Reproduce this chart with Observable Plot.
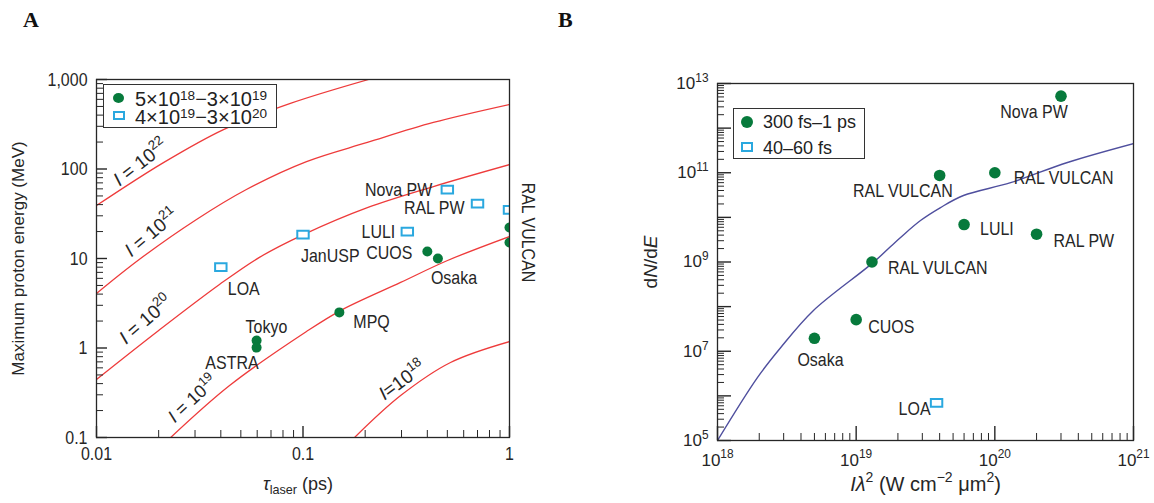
<!DOCTYPE html>
<html><head><meta charset="utf-8">
<script src="https://cdn.jsdelivr.net/npm/d3@7"></script>
<script src="https://cdn.jsdelivr.net/npm/@observablehq/plot@0.6"></script>
<style>
html,body{margin:0;padding:0;background:#fff;}
#wrap{position:relative;width:1154px;height:503px;overflow:hidden;background:#fff;}
.panel{position:absolute;top:0;}
.ptitle{position:absolute;top:7px;font:bold 22px "Liberation Serif","DejaVu Serif",serif;color:#111;}
.legend{position:absolute;background:#fff;border:1.3px solid #333;box-sizing:border-box;font-family:"Liberation Sans",Arial,sans-serif;color:#222;}
.legend .t{position:absolute;white-space:nowrap;line-height:16px;height:16px;}
.legend sup{font-size:0.68em;vertical-align:0.45em;line-height:0;}
.gdot{position:absolute;border-radius:50%;background:#077a3c;}
.bsq{position:absolute;box-sizing:border-box;border:2px solid #2aa8df;background:#fff;}
</style></head>
<body>
<div id="wrap">
  <div class="panel" id="pa" style="left:0;width:560px;"></div>
  <div class="panel" id="pb" style="left:577px;width:577px;"></div>
  <div class="ptitle" style="left:23px;">A</div>
  <div class="ptitle" style="left:558px;">B</div>
  <div class="legend" style="left:103px;top:84px;width:174px;height:44px;font-size:20px;">
    <span class="gdot" style="left:9px;top:8px;width:11px;height:10px;"></span>
    <span class="t" style="left:31px;top:6px;">5×10<sup>18</sup>−3×10<sup>19</sup></span>
    <span class="bsq" style="left:9px;top:26px;width:12px;height:9px;"></span>
    <span class="t" style="left:31px;top:24px;">4×10<sup>19</sup>−3×10<sup>20</sup></span>
  </div>
  <div class="legend" style="left:733px;top:108px;width:132px;height:51px;font-size:18px;">
    <span class="gdot" style="left:7px;top:7px;width:12px;height:12px;"></span>
    <span class="t" style="left:29px;top:5px;">300 fs–1 ps</span>
    <span class="bsq" style="left:7px;top:33px;width:12px;height:10px;"></span>
    <span class="t" style="left:29px;top:31px;">40–60 fs</span>
  </div>
</div>
<script>
// ---------- Panel A data ----------
const aGreenName = ["Tokyo","ASTRA","MPQ","CUOS","Osaka","RAL VULCAN","RAL VULCAN"];
const aGreenTau  = [0.0596,0.0596,0.15,0.40,0.45,1.0,1.0];
const aGreenE    = [1.21,1.01,2.5,12,10,22.2,15.1];
const aBlueName  = ["LOA","JanUSP","LULI","Nova PW","RAL PW","RAL VULCAN"];
const aBlueTau   = [0.04,0.10,0.32,0.50,0.70,1.0];
const aBlueE     = [8.0,18.5,20,59,41,35];

const aCurve18Tau = [0.1757,0.297,0.518,1.0];
const aCurve18E   = [0.0975,0.294,0.689,1.18];
const aCurve19Tau = [0.0226,0.0441,0.104,0.152,0.297,0.501,1.0];
const aCurve19E   = [0.0975,0.381,1.53,2.62,5.40,9.5,17.6];
const aCurve20Tau = [0.01,0.0200,0.0394,0.0615,0.1005,0.205,0.428,1.0];
const aCurve20E   = [0.445,1.57,5.12,10.3,18.5,37,63.7,112];
const aCurve21Tau = [0.01,0.0161,0.0305,0.0532,0.104,0.205,0.428,1.0];
const aCurve21E   = [4.07,9.75,27.3,59,121,198,331,526];
const aCurve22Tau = [0.01,0.0211,0.0412,0.0869,0.208];
const aCurve22E   = [39.1,118,276,540,1000];
const aCurveLabel = ["*I*=10^{18}","*I* = 10^{19}","*I* = 10^{20}","*I* = 10^{21}","*I* = 10^{22}"];

const aXTicks = [0.01,0.1,1];
const aXTickLabels = ["0.01","0.1","1"];
const aYTicks = [0.1,1,10,100,1000];
const aYTickLabels = ["0.1","1","10","100","1,000"];
const aXTitle = "*τ*_{laser} (ps)";
const aYTitle = "Maximum proton energy (MeV)";

// ---------- Panel B data ----------
const bGreenName = ["Nova PW","RAL VULCAN","RAL VULCAN","LULI","RAL PW","RAL VULCAN","CUOS","Osaka"];
const bGreenX    = [3.0e20,4.0e19,1.0e20,6.0e19,2.0e20,1.3e19,1.0e19,5.0e18];
const bGreenY    = [5.2e12,8.7e10,1.0e11,6.9e9,4.2e9,1.0e9,5.1e7,1.95e7];
const bBlueName  = ["LOA"];
const bBlueX     = [3.8e19];
const bBlueY     = [7.0e5];
const bCurveX = [1e18,1.94e18,2.85e18,4.9e18,1.33e19,2.09e19,2.91e19,4.06e19,5.94e19,1.30e20,3.34e20,1e21];
const bCurveY = [1e5,2.57e6,1.2e7,8.1e7,9.8e8,3.55e9,8.5e9,1.66e10,3.09e10,6.0e10,1.7e11,4.5e11];

const bXTicks = [1e18,1e19,1e20,1e21];
const bXTickLabels = ["10^{18}","10^{19}","10^{20}","10^{21}"];
const bYMajor = [1e5,1e6,1e7,1e8,1e9,1e10,1e11,1e12,1e13];
const bYTicks = [1e5,1e7,1e9,1e11,1e13];
const bYTickLabels = ["10^{5}","10^{7}","10^{9}","10^{11}","10^{13}"];
const bXTitle = "*Iλ*^{2} (W cm^{−2} μm^{2})";
const bYTitle = "d*N*/d*E*";

// ---------- styling / layout ----------
const GREEN = "#077a3c", CYAN = "#2aa8df", RED = "#ee3b3b", NAVY = "#4f4f9e", INK = "#262626";
const NARROW = '"Liberation Sans Narrow",Arial,"Liberation Sans",sans-serif';
const REG = '"Liberation Sans",Arial,sans-serif';

const rectSym = {draw(ctx, size) { const s = Math.sqrt(size); ctx.moveTo(-0.62*s,-0.42*s); ctx.lineTo(0.62*s,-0.42*s); ctx.lineTo(0.62*s,0.42*s); ctx.lineTo(-0.62*s,0.42*s); ctx.closePath(); }};

function minor(lo, hi) { const out = []; for (let e = lo; e < hi; e++) for (let k = 2; k <= 9; k++) out.push(k * Math.pow(10, e)); return out; }

// label placement (pixel offsets from the point)
const aGreenLabPos = [
  {dx:-11, dy:-14, a:"start"}, {dx:2, dy:15, a:"end"}, {dx:14, dy:10, a:"start"},
  {dx:-15, dy:1, a:"end"}, {dx:-7, dy:19, a:"start"}, {dx:19, dy:5, a:"middle", rot:90}, null];
const aBlueLabPos = [
  {dx:7, dy:22, a:"start"}, {dx:-2, dy:21, a:"start"}, {dx:-12, dy:0, a:"end"},
  {dx:-15, dy:0, a:"end"}, {dx:-13, dy:4, a:"end"}, null];
const aCurveLabPos = [
  {tau:0.302, E:0.433, rot:-36}, {tau:0.0292, E:0.270, rot:-43}, {tau:0.01729, E:2.07, rot:-41},
  {tau:0.01846, E:19.4, rot:-40}, {tau:0.01633, E:118, rot:-38}];
const bGreenLabPos = [
  {dx:-27, dy:16, a:"middle"}, {dx:13, dy:15, a:"end"}, {dx:19, dy:5, a:"start"},
  {dx:16, dy:4, a:"start"}, {dx:17, dy:7, a:"start"}, {dx:16, dy:6, a:"start"},
  {dx:12, dy:7, a:"start"}, {dx:-17, dy:22, a:"start"}];
const bBlueLabPos = [{dx:-6, dy:6, a:"end"}];

function pointLabels(names, xs, ys, pos) {
  const marks = [];
  names.forEach((n, i) => {
    const p = pos[i]; if (!p) return;
    marks.push(Plot.text([{x: xs[i], y: ys[i], t: n}], {x: "x", y: "y", text: "t", dx: p.dx, dy: p.dy,
      textAnchor: p.a, rotate: p.rot || 0, fontFamily: NARROW, fontSize: 19, fill: INK}));
  });
  return marks;
}

function axesMarks(xMajor, xLabels, xMinor, yMajorTicks, yLabTicks, yLabels, yMinor, xPad, yPad, majLen, minLen, labFont, labSize) {
  return [
    Plot.axisX(xMinor, {anchor: "bottom", tickSize: minLen, dy: -minLen, tickFormat: () => "", label: null, stroke: INK}),
    Plot.axisX(xMajor, {anchor: "bottom", tickSize: majLen, dy: -majLen, tickFormat: () => "", label: null, stroke: INK, strokeWidth: 1.4}),
    Plot.axisX(xMajor, {anchor: "bottom", tickSize: 0, tickPadding: xPad, tickFormat: d => xLabels[xMajor.indexOf(d)], label: null, fill: INK, fontSize: labSize, fontFamily: labFont}),
    Plot.axisY(yMinor, {anchor: "left", tickSize: minLen, dx: minLen, tickFormat: () => "", label: null, stroke: INK}),
    Plot.axisY(yMajorTicks, {anchor: "left", tickSize: majLen, dx: majLen, tickFormat: () => "", label: null, stroke: INK, strokeWidth: 1.4}),
    Plot.axisY(yLabTicks, {anchor: "left", tickSize: 0, tickPadding: yPad, tickFormat: d => yLabels[yLabTicks.indexOf(d)], label: null, fill: INK, fontSize: labSize, fontFamily: labFont})
  ];
}

const curvesA = [[aCurve18Tau,aCurve18E],[aCurve19Tau,aCurve19E],[aCurve20Tau,aCurve20E],[aCurve21Tau,aCurve21E],[aCurve22Tau,aCurve22E]];

const plotA = Plot.plot({
  width: 560, height: 503,
  marginLeft: 96, marginRight: 51, marginTop: 79, marginBottom: 66,
  style: {fontFamily: REG, fontSize: "19px", color: INK, background: "none", overflow: "visible", maxWidth: "none"},
  x: {type: "log", domain: [0.01, 1]},
  y: {type: "log", domain: [0.1, 1000]},
  marks: [
    ...curvesA.map(([t, e]) => Plot.line(d3.zip(t, e), {stroke: RED, strokeWidth: 1.3, curve: "catmull-rom", clip: true})),
    ...aCurveLabel.map((s, i) => Plot.text([aCurveLabPos[i]], {x: "tau", y: "E", text: () => s, rotate: aCurveLabPos[i].rot, fontFamily: REG, fontSize: i === 1 ? 18 : 19, fill: INK})),
    Plot.dot(d3.range(aGreenTau.length), {x: i => aGreenTau[i], y: i => aGreenE[i], r: 5, fill: GREEN, clip: true}),
    Plot.dot(d3.range(aBlueTau.length), {x: i => aBlueTau[i], y: i => aBlueE[i], symbol: rectSym, r: 5.2, stroke: CYAN, strokeWidth: 2, fill: "white", clip: true}),
    ...pointLabels(aGreenName, aGreenTau, aGreenE, aGreenLabPos),
    ...pointLabels(aBlueName, aBlueTau, aBlueE, aBlueLabPos),
    ...axesMarks(aXTicks, aXTickLabels, minor(-2, 0), aYTicks, aYTicks, aYTickLabels, minor(-1, 3), 9, 9, 11, 7, NARROW, 19),
    Plot.frame({stroke: INK, strokeWidth: 1.3}),
    Plot.text([aXTitle], {text: d => d, frameAnchor: "bottom", textAnchor: "middle", dy: 52, dx: -5, fontFamily: REG, fontSize: 18, fill: INK}),
    Plot.text([aYTitle], {text: d => d, frameAnchor: "left", textAnchor: "middle", dx: -78, rotate: -90, fontFamily: REG, fontSize: 17, fill: INK})
  ]
});

const plotB = Plot.plot({
  width: 577, height: 503,
  marginLeft: 140, marginRight: 21, marginTop: 83, marginBottom: 63,
  style: {fontFamily: REG, fontSize: "19px", color: INK, background: "none", overflow: "visible", maxWidth: "none"},
  x: {type: "log", domain: [1e18, 1e21]},
  y: {type: "log", domain: [1e5, 1e13]},
  marks: [
    Plot.line(d3.zip(bCurveX, bCurveY), {stroke: NAVY, strokeWidth: 1.4, curve: "catmull-rom", clip: true}),
    Plot.dot(d3.range(bGreenX.length), {x: i => bGreenX[i], y: i => bGreenY[i], r: 5.8, fill: GREEN}),
    Plot.dot(d3.range(bBlueX.length), {x: i => bBlueX[i], y: i => bBlueY[i], symbol: rectSym, r: 5.2, stroke: CYAN, strokeWidth: 2, fill: "white"}),
    ...pointLabels(bGreenName, bGreenX, bGreenY, bGreenLabPos),
    ...pointLabels(bBlueName, bBlueX, bBlueY, bBlueLabPos),
    ...axesMarks(bXTicks, bXTickLabels, minor(18, 21), bYMajor, bYTicks, bYTickLabels, minor(5, 13), 13, 9, 14, 7, REG, 17),
    Plot.frame({stroke: INK, strokeWidth: 1.3}),
    Plot.text([bXTitle], {text: d => d, frameAnchor: "bottom", textAnchor: "middle", dy: 50, fontFamily: REG, fontSize: 20, fill: INK}),
    Plot.text([bYTitle], {text: d => d, frameAnchor: "left", textAnchor: "middle", dx: -67, rotate: -90, fontFamily: REG, fontSize: 19, fill: INK})
  ]
});

document.getElementById("pa").appendChild(plotA);
document.getElementById("pb").appendChild(plotB);

// drop the empty label texts of the tick-only axes
for (const svg of [plotA, plotB]) svg.querySelectorAll("text").forEach(t => { if (t.textContent === "") t.remove(); });

// rich text: *italic*, ^{sup}, _{sub}
const SVGNS = "http://www.w3.org/2000/svg";
function parseRich(s) {
  const segs = []; let buf = "", italic = false, i = 0;
  const flush = () => { if (buf) segs.push({t: buf, kind: "n", italic}); buf = ""; };
  while (i < s.length) {
    const c = s[i];
    if ((c === "^" || c === "_") && s[i + 1] === "{") {
      flush(); const j = s.indexOf("}", i);
      segs.push({t: s.slice(i + 2, j), kind: c === "^" ? "sup" : "sub", italic});
      i = j + 1; continue;
    }
    if (c === "*") { flush(); italic = !italic; i++; continue; }
    buf += c; i++;
  }
  flush();
  return segs;
}
function richify(root) {
  root.querySelectorAll("text").forEach(t => {
    const s = t.textContent;
    if (!/[\^_]\{|\*/.test(s)) return;
    const fs = parseFloat(getComputedStyle(t).fontSize) || 19;
    const segs = parseRich(s);
    while (t.firstChild) t.removeChild(t.firstChild);
    let cur = 0;
    for (const g of segs) {
      const ts = document.createElementNS(SVGNS, "tspan");
      const target = g.kind === "sup" ? -0.42 * fs : g.kind === "sub" ? 0.25 * fs : 0;
      if (target !== cur) ts.setAttribute("dy", (target - cur).toFixed(2));
      cur = target;
      if (g.kind !== "n") ts.setAttribute("font-size", (fs * 0.7).toFixed(1));
      if (g.italic) ts.setAttribute("font-style", "italic");
      ts.textContent = g.t;
      t.appendChild(ts);
    }
  });
}
// condensed look for the label face when no narrow font is installed
function hasNarrow() {
  const c = document.createElement("canvas").getContext("2d");
  c.font = '20px "Liberation Sans Narrow", monospace'; const a = c.measureText("Nova PW RAL VULCAN").width;
  c.font = '20px monospace'; const b = c.measureText("Nova PW RAL VULCAN").width;
  return Math.abs(a - b) > 0.5;
}
function condense(root, k) {
  root.querySelectorAll("text").forEach(t => {
    if (!t.textContent || t.querySelector("tspan")) return;
    if (!getComputedStyle(t).fontFamily.includes("Narrow")) return;
    const L = t.getComputedTextLength();
    if (L > 0) { t.setAttribute("textLength", (L * k).toFixed(2)); t.setAttribute("lengthAdjust", "spacingAndGlyphs"); }
  });
}
richify(plotA);
richify(plotB);
if (!hasNarrow()) { condense(plotA, 0.84); condense(plotB, 0.84); }
</script>
</body></html>
